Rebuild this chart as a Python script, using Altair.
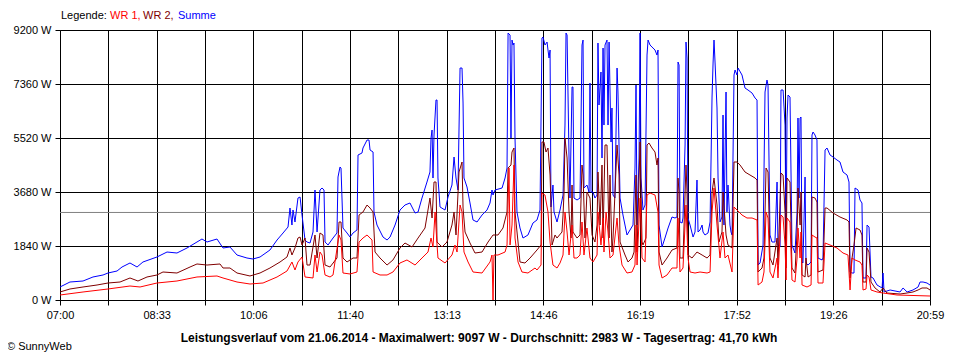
import altair as alt
import pandas as pd

# ---------------- data (minutes after 07:00, watts) ----------------
summe_t = [0, 9.6, 22.2, 31.8, 41.5, 46.3, 55.0, 59.8, 67.5, 74.3, 80.0, 93.5, 103.2, 112.8, 122.5, 132.1, 136.9, 141.8,
           151.4, 157.2, 163.9, 170.7, 180.3, 186.1, 192.9, 202.5, 209.3, 215.1, 219.9, 221.8, 223.7, 224.7, 226.6,
           229.5, 231.5, 233.4, 236.3, 238.2, 241.1, 244.0, 245.9, 247.9, 250.7, 252.7, 254.6, 255.6, 258.5, 263.3,
           267.1, 268.1, 270.0, 271.0, 272.9, 276.8, 279.7, 282.6, 286.4, 287.4, 291.2, 292.2, 296.1, 298.0, 299.0,
           301.9, 302.8, 305.7, 311.5, 315.4, 318.3, 323.1, 327.9, 332.7, 337.5, 342.4, 345.3, 349.1, 353.9, 356.8,
           357.8, 358.8, 359.7, 360.7, 362.6, 363.6, 364.5, 366.5, 371.3, 374.2, 378.0, 380.0, 381.9, 383.8, 385.8,
           387.7, 388.7, 389.6, 392.5, 395.4, 398.3, 402.2, 407.0, 411.8, 414.7, 416.6, 417.6, 419.5, 426.3, 429.2,
           431.1, 432.1, 434.0, 434.9, 435.9, 436.9, 437.8, 438.8, 440.7, 443.6, 446.5, 451.3, 456.1, 460.0, 462.9,
           464.8, 465.8, 467.7, 469.7, 470.6, 471.6, 472.6, 473.5, 475.4, 476.4, 479.3, 482.2, 485.1, 486.1, 487.0,
           488.0, 489.0, 490.9, 491.8, 493.8, 494.7, 495.7, 498.6, 501.5, 503.4, 504.4, 505.3, 508.2, 510.2, 511.1,
           512.1, 514.0, 515.9, 517.9, 518.8, 519.8, 521.7, 522.7, 523.7, 524.6, 525.6, 527.5, 528.5, 529.5, 531.4,
           532.3, 533.3, 535.2, 537.2, 538.1, 540.1, 542.9, 546.8, 549.7, 552.6, 554.5, 555.5, 556.5, 558.4, 559.4,
           560.3, 562.2, 564.2, 566.1, 567.1, 569.0, 570.9, 573.8, 575.7, 576.7, 577.7, 580.6, 583.4, 586.4, 590.2,
           593.1, 595.0, 596.0, 597.0, 597.9, 599.9, 600.8, 602.8, 603.7, 604.7, 605.6, 607.6, 610.5, 612.4, 614.3,
           615.3, 617.2, 619.2, 620.1, 622.0, 624.9, 626.9, 628.8, 629.8, 630.7, 631.7, 633.6, 634.6, 636.5, 638.4,
           639.4, 640.3, 642.3, 643.2, 644.2, 646.1, 647.1, 648.1, 650.0, 651.0, 652.9, 653.9, 657.7, 660.6, 663.5,
           667.4, 670.3, 672.2, 673.2, 675.1, 678.0, 679.9, 681.8, 682.8, 684.7, 686.6, 689.5, 691.5, 692.4, 694.4,
           695.3, 697.3, 699.2, 700.2, 701.1, 702.1, 704.0, 705.9, 708.8, 710.8, 711.7, 712.7, 713.7, 714.6, 715.6,
           716.5, 718.5, 719.4, 721.4, 724.3, 725.2, 726.2, 728.1, 730.0, 731.0, 734.9, 735.8, 737.8, 739.7, 742.6,
           745.5, 749.3, 752.2, 755.1, 759.0, 760.9, 761.9, 763.8, 765.7, 766.7, 769.6, 771.5, 773.4, 774.4, 777.3,
           778.3, 780.2, 782.1, 784.1, 787.9, 792.8, 793.7, 794.7, 800.5, 810.1, 813.0, 816.9, 822.6, 827.5, 829.4,
           832.3, 836.1, 839.0]
summe_w = [443, 613, 647, 784, 852, 920, 988, 1124, 1261, 1124, 1295, 1465, 1635, 1601, 1772, 1976, 2078, 1976,
           2078, 1772, 1806, 1533, 1431, 1397, 1465, 1704, 2044, 2283, 2487, 3134, 2555, 3066, 2658,
           3475, 3509, 2896, 2044, 1976, 1942, 2317, 3748, 2317, 3748, 3816, 3748, 1976, 1874, 2112,
           2283, 4191, 4531, 4497, 2453, 2283, 2146, 2283, 2385, 4940, 5008, 5179, 5451, 5451, 5111,
           5042, 2998, 2555, 2146, 2044, 2146, 2555, 3066, 3237, 3305, 2964, 2998, 3475, 4020, 4361,
           5520, 5792, 4157, 5622, 6814, 6814, 4157, 3169, 3066, 3509, 3918, 4872, 4157, 3748, 7904,
           7904, 6712, 4157, 3850, 3305, 2726, 2658, 2896, 3066, 3305, 3748, 3577, 3748, 3816, 4157,
           4497, 9097, 9029, 5520, 8858, 8688, 8756, 5520, 2998, 2453, 2112, 2215, 2623, 2726, 3066,
           8927, 8960, 8688, 8790, 8518, 8245, 8518, 3169, 3918, 2998, 2658, 3066, 3577, 4838, 5962,
           9097, 9029, 4838, 3475, 7257, 7257, 3475, 3407, 3475, 8688, 8858, 3816, 3918, 3680, 7393,
           3680, 3680, 3475, 3577, 8756, 6644, 7768, 4838, 8586, 5962, 8688, 8858, 5962, 8790, 5383,
           6542, 3577, 3475, 7904, 7087, 3475, 2896, 2215, 2385, 2555, 4497, 7325, 2555, 4838, 9097,
           4157, 3066, 3237, 8347, 8858, 8688, 8620, 8518, 8347, 8518, 2555, 1806, 2112, 2453, 2828,
           2794, 2828, 8109, 8007, 2658, 2623, 2794, 5281, 8790, 8245, 2794, 2555, 2146, 2317, 4088,
           2317, 2385, 2555, 2317, 2215, 2283, 2658, 6916, 8075, 8858, 8109, 6542, 4157, 2658, 2828,
           6303, 2555, 7087, 3000, 3918, 2555, 2317, 2215, 7666, 7836, 7666, 7904, 7666, 7223, 7155,
           7052, 6882, 6814, 1192, 1261, 1874, 7087, 7495, 7325, 2215, 1976, 1976, 4020, 1874, 1806,
           7155, 7155, 5962, 1874, 6201, 6984, 6916, 1874, 1601, 2998, 6201, 3475, 6201, 6235, 1295,
           1261, 4191, 1261, 1192, 1295, 5622, 5724, 5622, 5451, 1431, 1363, 1431, 5111, 5179, 4940,
           4872, 4770, 4702, 4361, 4259, 4020, 954, 920, 920, 3816, 3748, 3407, 3305, 750, 750,
           2555, 2487, 784, 750, 511, 409, 920, 273, 341, 273, 409, 273, 341, 443, 613,
           613, 579, 511]

wr2_t = [0, 9.6, 22.2, 35.7, 46.3, 57.9, 67.5, 75.2, 83.9, 93.5, 99.3, 112.8, 125.4, 132.1, 141.8, 154.3, 157.2,
         163.9, 170.7, 183.2, 192.9, 202.5, 212.2, 218.9, 221.8, 223.7, 226.6, 229.5, 231.5, 233.4, 236.3, 238.2,
         241.1, 245.9, 247.9, 250.7, 253.6, 255.6, 260.4, 267.1, 269.1, 271.0, 272.9, 276.8, 282.6, 286.4, 288.4,
         292.2, 296.1, 299.0, 301.9, 303.8, 308.6, 315.4, 321.1, 327.9, 332.7, 339.5, 345.3, 352.0, 356.8, 358.8,
         360.7, 362.6, 363.6, 368.4, 373.2, 378.0, 380.0, 381.9, 384.8, 387.7, 388.7, 390.6, 395.4, 400.2, 407.0,
         412.8, 417.6, 422.4, 427.2, 431.1, 432.1, 434.9, 435.9, 437.8, 438.8, 441.7, 443.6, 448.4, 453.3, 460.0,
         463.9, 464.8, 466.7, 468.7, 470.6, 472.6, 473.5, 474.5, 477.4, 479.3, 484.1, 485.1, 486.1, 487.0, 489.0,
         490.9, 492.8, 493.8, 494.7, 498.6, 501.5, 503.4, 504.4, 506.3, 508.2, 511.1, 513.1, 515.9, 517.9, 518.8,
         520.8, 522.7, 523.7, 525.6, 527.5, 529.5, 530.4, 532.3, 533.3, 537.2, 539.1, 540.1, 544.9, 547.8, 551.6,
         553.6, 555.5, 556.5, 559.4, 561.3, 562.2, 565.1, 566.1, 568.0, 570.9, 573.8, 575.7, 576.7, 577.7, 580.6,
         585.4, 590.2, 595.0, 596.0, 597.0, 597.9, 600.8, 603.7, 604.7, 605.6, 609.5, 614.3, 619.2, 624.0, 626.9,
         628.8, 630.7, 633.6, 635.5, 638.4, 639.4, 642.3, 644.2, 648.1, 650.0, 652.9, 655.8, 660.6, 665.4, 670.3,
         672.2, 673.2, 677.0, 678.9, 680.9, 682.8, 684.7, 687.6, 691.5, 692.4, 695.3, 697.3, 699.2, 700.2, 701.1,
         704.0, 705.9, 708.8, 710.8, 711.7, 713.7, 714.6, 715.6, 718.5, 719.4, 721.4, 724.3, 725.2, 728.1, 730.0,
         731.0, 735.8, 737.8, 739.7, 745.5, 752.2, 759.0, 760.9, 761.9, 763.8, 765.7, 767.7, 771.5, 773.4, 774.4,
         777.3, 778.3, 780.2, 782.1, 786.0, 790.8, 793.7, 797.5, 810.1, 816.9, 822.6, 827.5, 831.3, 836.1, 839.0]
wr2_w = [273, 375, 443, 511, 579, 613, 750, 647, 784, 852, 954, 920, 1124, 1227, 1192, 1227, 1090,
         1090, 920, 818, 920, 1090, 1295, 1465, 1772, 1533, 1772, 2112, 2146, 1874, 2112, 1192,
         1192, 2215, 1431, 2283, 2215, 1192, 1124, 1431, 2658, 2658, 1431, 1295, 1431, 1431, 2896,
         2998, 3237, 3134, 2998, 1635, 1431, 1192, 1363, 1772, 1942, 1806, 2112, 2453, 3475, 2794,
         4020, 4020, 1976, 1806, 1976, 2555, 2998, 2215, 4361, 4702, 3134, 2317, 1942, 1601, 1635,
         1976, 2215, 2215, 2453, 2998, 4497, 4600, 5042, 5179, 2998, 1976, 1295, 1261, 1431, 1704,
         1874, 5383, 5383, 5042, 5179, 4259, 3237, 1874, 2215, 2112, 2317, 2896, 3680, 5520, 4838,
         2998, 2112, 3918, 2317, 2112, 2215, 4600, 4259, 2112, 3680, 3475, 2215, 1976, 2555, 4361,
         2555, 4600, 2112, 5281, 5281, 2112, 4259, 1635, 2112, 5281, 4259, 1976, 1533, 1295, 1431,
         1635, 4259, 1635, 5383, 1976, 1874, 2112, 5281, 5349, 5179, 5042, 4600, 4838, 1635, 1192,
         1431, 1704, 1772, 4157, 3680, 1431, 1431, 4600, 3680, 1533, 1431, 1635, 1533, 1431, 1533,
         3680, 4157, 3237, 1976, 2317, 3680, 2215, 1874, 1772, 4702, 4702, 4600, 4361, 4259, 4157,
         4088, 954, 1090, 1431, 4497, 4361, 1431, 1192, 2112, 1192, 4327, 4259, 2998, 1090, 4157,
         4020, 1090, 920, 2317, 3816, 2555, 3680, 852, 784, 1431, 784, 852, 3509, 3475, 3339,
         954, 1022, 3134, 3134, 2964, 2828, 2726, 2658, 750, 1431, 1874, 2453, 2385, 2215, 613,
         613, 1772, 1635, 613, 409, 273, 409, 238, 204, 238, 273, 341, 409, 409, 341]

wr1_t = [0, 22.2, 46.3, 67.5, 77.2, 93.5, 112.8, 132.1, 151.4, 157.2, 170.7, 183.2, 195.8, 209.3, 218.9, 223.7,
         226.6, 229.5, 233.4, 236.3, 244.0, 245.9, 247.9, 250.7, 252.7, 255.6, 260.4, 263.3, 269.1, 271.0, 272.9,
         279.7, 286.4, 288.4, 292.2, 296.1, 300.9, 301.9, 308.6, 315.4, 321.1, 327.9, 334.6, 342.4, 349.1, 354.9,
         357.8, 359.7, 361.7, 363.6, 364.5, 371.3, 378.0, 380.9, 382.9, 385.8, 387.7, 389.6, 393.5, 398.3, 407.0,
         414.7, 416.6, 417.6, 418.5, 422.4, 429.2, 431.1, 433.0, 434.0, 435.9, 437.8, 438.8, 441.7, 445.5, 451.3,
         458.1, 460.0, 463.9, 464.8, 467.7, 470.6, 472.6, 474.5, 475.4, 479.3, 482.2, 485.1, 487.0, 489.0, 490.9,
         493.8, 495.7, 498.6, 501.5, 503.4, 505.3, 508.2, 511.1, 514.0, 517.9, 518.8, 521.7, 523.7, 524.6, 526.6,
         528.5, 530.4, 533.3, 537.2, 539.1, 542.0, 546.8, 551.6, 554.5, 555.5, 556.5, 559.4, 561.3, 564.2, 566.1,
         569.0, 573.8, 576.7, 577.7, 580.6, 585.4, 590.2, 595.0, 596.0, 597.9, 600.8, 603.7, 605.6, 607.6, 612.4,
         617.2, 624.0, 626.9, 628.8, 630.7, 633.6, 636.5, 639.4, 641.3, 644.2, 648.1, 650.0, 652.9, 657.7, 662.5,
         667.4, 672.2, 673.2, 677.0, 678.9, 680.9, 682.8, 684.7, 687.6, 691.5, 692.4, 695.3, 697.3, 699.2, 700.2,
         701.1, 704.0, 705.9, 708.8, 710.8, 711.7, 713.7, 714.6, 715.6, 720.4, 724.3, 725.2, 728.1, 730.0, 731.0,
         735.8, 737.8, 742.6, 749.3, 755.1, 759.9, 761.9, 763.8, 766.7, 771.5, 773.4, 774.4, 777.3, 778.3, 780.2,
         782.1, 787.9, 793.7, 807.2, 839.0]
wr1_w = [170, 273, 375, 477, 443, 579, 647, 784, 818, 750, 613, 545, 579, 784, 988, 1295,
         1022, 1295, 1465, 784, 750, 1533, 954, 1635, 1533, 852, 784, 852, 2215, 2044, 920,
         886, 954, 1976, 2112, 2215, 2044, 954, 852, 852, 954, 1261, 1363, 1192, 1431, 1635,
         2112, 1806, 2998, 1874, 1431, 1261, 1533, 1874, 1635, 3237, 2998, 1635, 1295, 954, 920,
         1295, 1533, 0, 1533, 1533, 1635, 1874, 4497, 1874, 2555, 4600, 2112, 1295, 954, 920,
         1090, 1022, 1192, 3645, 3577, 2998, 1976, 1431, 1192, 1090, 1261, 1533, 2998, 2317, 1533,
         2555, 1431, 1431, 1533, 2658, 1533, 2453, 1431, 1295, 1533, 2998, 1874, 2794, 1635, 2998,
         2317, 1431, 1533, 2794, 1874, 1192, 920, 954, 1192, 2555, 1192, 3475, 1431, 1295, 3577,
         3645, 3577, 2998, 1192, 750, 852, 1090, 1090, 2794, 954, 1090, 3237, 1431, 954, 920,
         954, 920, 954, 2998, 3816, 2555, 1431, 2317, 1431, 1533, 954, 3169, 3066, 2896, 2794,
         2794, 2726, 511, 613, 954, 2998, 2794, 954, 750, 1431, 750, 2896, 2828, 1874, 681,
         2794, 2658, 681, 613, 1431, 2453, 1431, 2317, 511, 443, 511, 2215, 2146, 2112, 579,
         579, 1942, 1874, 1772, 1601, 1533, 341, 1431, 1363, 1295, 1192, 341, 375, 852, 784,
         341, 273, 238, 170, 136]

average_w = 2983
max_w = 9097
yield_kwh = "41,70"
y_ticks = [0, 1840, 3680, 5520, 7360, 9200]
x_labels = ["07:00", "08:33", "10:06", "11:40", "13:13", "14:46", "16:19", "17:52", "19:26", "20:59"]
day_span = 839  # minutes from 07:00 to 20:59

# ---------------- chart ----------------
FONT = "Liberation Sans"
step = day_span / 18
x_tick_values = [round(i * step, 3) for i in range(19)]
label_arr = []
for lab in x_labels:
    label_arr += [lab, ""]
label_arr = label_arr[:19]
label_js = "[" + ",".join("'" + s + "'" for s in label_arr) + "]"


def frame(t, w):
    return pd.DataFrame({"t": t, "w": w, "i": list(range(len(t)))})


x_enc = alt.X("t:Q", scale=alt.Scale(domain=[0, day_span], nice=False, zero=False),
              axis=alt.Axis(values=x_tick_values, labelExpr=label_js + "[round(datum.value / " + str(step) + ")]",
                            title=None, grid=True, gridColor="black", gridOpacity=1, gridWidth=1,
                            domainColor="black", tickColor="black", tickSize=5, labelPadding=4,
                            labelFont=FONT, labelFontSize=11, labelColor="black", labelFlush=False,
                            labelOverlap=False))
y_enc = alt.Y("w:Q", scale=alt.Scale(domain=[0, 9200], nice=False),
              axis=alt.Axis(values=y_ticks, labelExpr="datum.value + ' W'", title=None, grid=True,
                            gridColor="black", gridOpacity=1, gridWidth=1, domainColor="black",
                            tickColor="black", tickSize=5, labelPadding=4, labelFont=FONT,
                            labelFontSize=11, labelColor="black", labelOverlap=False))

avg_rule = alt.Chart(pd.DataFrame({"w": [average_w]})).mark_rule(color="#808080", strokeWidth=1).encode(y=y_enc)


def series(t, w, color):
    return alt.Chart(frame(t, w)).mark_line(color=color, strokeWidth=1, interpolate="linear").encode(
        x=x_enc, y=y_enc, order="i:Q")


blue = series(summe_t, summe_w, "#0000ff")
dark = series(wr2_t, wr2_w, "#800000")
red = series(wr1_t, wr1_w, "#ff0000")

one = pd.DataFrame({"k": [0]})


def label(text, x, y, color="black", bold=False, size=11, align="left"):
    return alt.Chart(one).mark_text(align=align, baseline="middle", font=FONT, fontSize=size,
                                    fontWeight="bold" if bold else "normal", color=color).encode(
        x=alt.value(x), y=alt.value(y), text=alt.value(text))


legend = [
    label("Legende:", 1, -14),
    label("WR 1,", 50, -14, "#ff0000"),
    label("WR 2,", 83, -14, "#800000"),
    label("Summe", 118, -14, "#0000ff"),
]
title_text = ("Leistungsverlauf vom 21.06.2014 - Maximalwert: " + str(max_w) + " W - Durchschnitt: "
              + str(average_w) + " W - Tagesertrag: " + yield_kwh + " kWh")
bottom = [
    label(title_text, 419, 308, bold=True, size=12, align="center"),
    label("© SunnyWeb", -53, 317),
]

chart = alt.layer(avg_rule, blue, dark, red, *legend, *bottom).properties(
    width=870, height=270, autosize="none",
    padding={"left": 52, "top": 22, "right": 22, "bottom": 58},
).configure_view(stroke=None).configure(background="white")

chart.save("out.html", embed_options={"renderer": "svg", "actions": False})
